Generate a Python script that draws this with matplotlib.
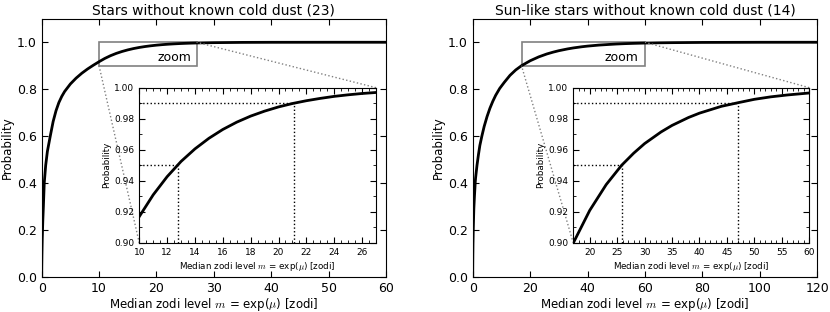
import matplotlib
matplotlib.use('Agg')
import matplotlib.pyplot as plt
from matplotlib.ticker import MultipleLocator
from mpl_toolkits.axes_grid1.inset_locator import mark_inset

plt.rcParams['mathtext.fontset'] = 'cm'
plt.rcParams['font.family'] = ['DejaVu Sans']

# ── data ─────────────────────────────────────────────────────────────────────
titles = ['Stars without known cold dust (23)',
          'Sun-like stars without known cold dust (14)']

m_all = [0, 0.02, 0.05, 0.1, 0.2, 0.3, 0.45, 0.7, 1.0, 1.5, 2.0, 2.5, 3.0,
         3.5, 4.0, 5.0, 6.0, 7.0, 8.0, 9.0, 10, 11, 12, 13, 14, 15, 16, 17,
         18, 19, 20, 21, 22, 23, 24, 25, 26, 27, 28, 30, 35, 40, 50, 60]
p_all = [0.0, 0.05, 0.10, 0.16, 0.24, 0.30, 0.40, 0.475, 0.535, 0.60, 0.662,
         0.708, 0.743, 0.769, 0.790, 0.822, 0.847, 0.868, 0.886, 0.902,
         0.917, 0.931, 0.9427, 0.9525, 0.9606, 0.9674, 0.9731, 0.9778,
         0.9817, 0.9849, 0.9876, 0.9898, 0.9916, 0.9931, 0.9944, 0.9954,
         0.99625, 0.9969, 0.9975, 0.99835, 0.99943, 0.9998, 0.99998, 1.0]

m_sun = [0, 0.02, 0.05, 0.1, 0.2, 0.4, 0.6, 0.9, 1.0, 1.5, 2.0, 2.5, 3.2,
         4, 5, 6, 7, 8, 9.4, 11, 13, 15, 17, 20, 23, 25.8, 28, 30, 33, 35,
         38, 40, 44, 47, 50, 53, 56, 60, 65, 70, 80, 100, 120]
p_sun = [0.0, 0.045, 0.09, 0.14, 0.20, 0.29, 0.34, 0.405, 0.42, 0.475,
         0.52, 0.56, 0.60, 0.641, 0.683, 0.7185, 0.748, 0.7736, 0.803,
         0.829, 0.859, 0.882, 0.900, 0.921, 0.9376, 0.95, 0.9578, 0.964,
         0.9715, 0.9757, 0.9808, 0.9836, 0.988, 0.9903, 0.9925, 0.9941,
         0.9953, 0.99658, 0.9977, 0.9984, 0.9993, 0.9999, 1.0]

# 95% and 99% levels
levels = [0.95, 0.99]
m_levels_all = [12.75, 21.1]
m_levels_sun = [25.8, 47.0]

# zoom windows (x range), y range shared
zoom_x_all = (10, 27)
zoom_x_sun = (17, 60)
zoom_y = (0.90, 1.00)

xmax_main = [60, 120]

# ── figure ───────────────────────────────────────────────────────────────────
fig = plt.figure(figsize=(8.3, 3.12), dpi=100, facecolor='white')

main_rects = [[0.0502, 0.1131, 0.4148, 0.8266],
              [0.5695, 0.1131, 0.4152, 0.8266]]
inset_rects = [[0.1678, 0.2212, 0.2852, 0.4978],
               [0.6907, 0.2212, 0.2843, 0.4978]]

series = [(m_all, p_all, m_levels_all, zoom_x_all, MultipleLocator(2), MultipleLocator(0.5)),
          (m_sun, p_sun, m_levels_sun, zoom_x_sun, MultipleLocator(5), MultipleLocator(1))]

xlabel = r'Median zodi level $m$ = exp($\mu$) [zodi]'

for i, (m, p, mlev, zx, xmaj, xmin) in enumerate(series):
    ax = fig.add_axes(main_rects[i])
    ax.plot(m, p, color='black', lw=2)
    ax.set_xlim(0, xmax_main[i])
    ax.set_ylim(0, 1.1)
    ax.set_yticks([0, 0.2, 0.4, 0.6, 0.8, 1.0])
    ax.set_title(titles[i], fontsize=10, pad=3)
    ax.set_xlabel(xlabel, fontsize=8.5, labelpad=1)
    ax.set_ylabel('Probability', fontsize=8.5, labelpad=2)
    ax.tick_params(direction='in', top=True, right=True, labelsize=9, length=4)

    # zoom label inside the marked box
    ax.text(zx[1] - 0.05 * (zx[1] - zx[0]), 0.934, 'zoom', ha='right',
            va='center', fontsize=9)

    axin = fig.add_axes(inset_rects[i])
    axin.plot(m, p, color='black', lw=2)
    axin.set_xlim(*zx)
    axin.set_ylim(*zoom_y)
    axin.xaxis.set_major_locator(xmaj)
    axin.xaxis.set_minor_locator(xmin)
    axin.yaxis.set_major_locator(MultipleLocator(0.02))
    axin.yaxis.set_minor_locator(MultipleLocator(0.01))
    axin.yaxis.set_major_formatter(plt.FormatStrFormatter('%.2f'))
    axin.tick_params(which='both', direction='in', top=True, right=True,
                     labelsize=6.5)
    axin.tick_params(which='major', length=4)
    axin.tick_params(which='minor', length=2)
    axin.set_xlabel(xlabel, fontsize=6.3, labelpad=2)
    axin.set_ylabel('Probability', fontsize=6.3, labelpad=2)

    for lev, ml in zip(levels, mlev):
        axin.plot([zx[0], ml], [lev, lev], color='black', ls=':', lw=1)
        axin.plot([ml, ml], [zoom_y[0], lev], color='black', ls=':', lw=1)

    pp, p1, p2 = mark_inset(ax, axin, loc1=1, loc2=3, fc='none', ec='0.5')
    pp.set_linewidth(1.2)
    for c in (p1, p2):
        c.set_linestyle(':')
        c.set_linewidth(1)

fig.savefig('out.png', dpi=100, facecolor='white')
